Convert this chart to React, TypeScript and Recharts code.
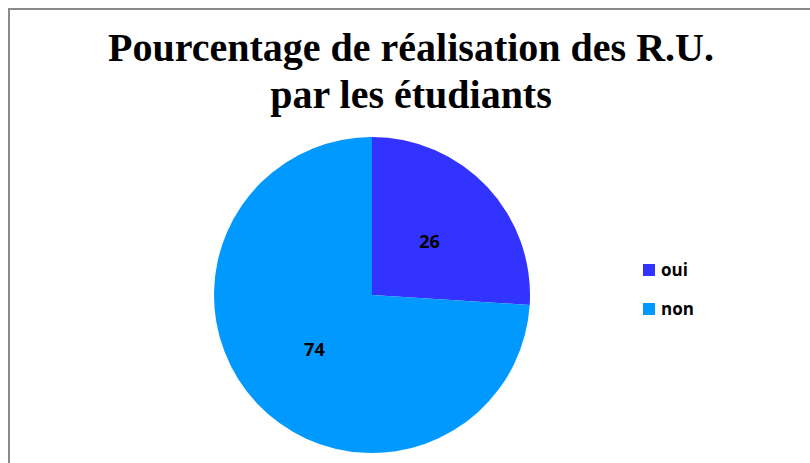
import { PieChart, Pie, Cell, Legend } from 'recharts'

const categories = ['oui', 'non']
const values = [26, 74]
const colors = ['#3333FF', '#0099FF']

const data = categories.map((name, i) => ({ name, value: values[i] }))

const RADIAN = Math.PI / 180

const renderLabel = (props: any) => {
  const { cx, cy, midAngle, outerRadius, value } = props
  const r = outerRadius * 0.5
  const x = cx + r * Math.cos(-midAngle * RADIAN)
  const y = cy + r * Math.sin(-midAngle * RADIAN)
  return (
    <text
      x={x}
      y={y}
      fill="#000"
      textAnchor="middle"
      dominantBaseline="central"
      fontFamily="'Open Sans', Arial, sans-serif"
      fontWeight="bold"
      fontSize={18}
    >
      {value}
    </text>
  )
}

// legend order follows the data, not recharts' sorted payload
const renderLegend = () => (
  <div>
    {categories.map((name, i) => (
      <div key={name} style={{ display: 'flex', alignItems: 'center', height: 39 }}>
        <span
          style={{
            display: 'inline-block',
            width: 12,
            height: 12,
            background: colors[i],
            marginRight: 6,
          }}
        />
        <span
          style={{
            fontFamily: "'Open Sans', Arial, sans-serif",
            fontWeight: 'bold',
            fontSize: 17,
            color: '#000',
          }}
        >
          {name}
        </span>
      </div>
    ))}
  </div>
)

export default function App() {
  return (
    <div
      style={{
        position: 'absolute',
        left: 0,
        top: 0,
        width: 810,
        height: 463,
        background: '#fff',
        overflow: 'hidden',
      }}
    >
      <div
        style={{
          position: 'absolute',
          left: 8,
          top: 8,
          width: 900,
          height: 500,
          borderLeft: '2px solid #8a8a8a',
          borderTop: '2px solid #8a8a8a',
        }}
      />
      <div
        style={{
          position: 'absolute',
          left: 6,
          top: 24,
          width: 810,
          textAlign: 'center',
          fontFamily: "'Liberation Serif', 'Times New Roman', serif",
          fontWeight: 'bold',
          fontSize: 40,
          lineHeight: '47px',
          color: '#000',
        }}
      >
        Pourcentage de réalisation des R.U.
        <br />
        par les étudiants
      </div>
      <div style={{ position: 'absolute', left: 0, top: 0 }}>
        <PieChart width={810} height={463} margin={{ top: 0, right: 0, bottom: 0, left: 0 }}>
          <Pie
            data={data}
            dataKey="value"
            nameKey="name"
            cx={372}
            cy={295}
            outerRadius={158}
            startAngle={90}
            endAngle={-270}
            stroke="none"
            label={renderLabel}
            labelLine={false}
            isAnimationActive={false}
          >
            {data.map((d, i) => (
              <Cell key={d.name} fill={colors[i]} />
            ))}
          </Pie>
          <Legend
            layout="vertical"
            content={renderLegend}
            wrapperStyle={{ position: 'absolute', left: 643, top: 250, width: 120 }}
          />
        </PieChart>
      </div>
    </div>
  )
}
